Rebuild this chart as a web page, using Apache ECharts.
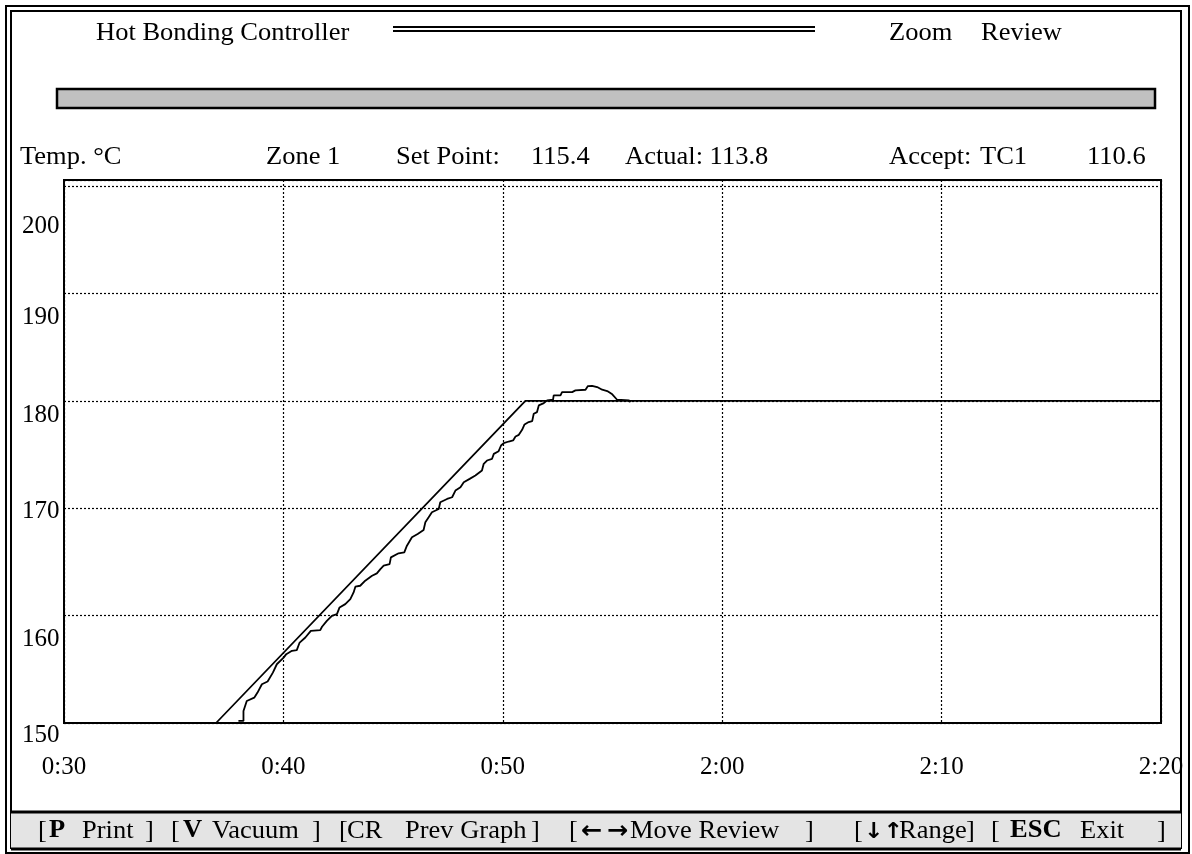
<!DOCTYPE html>
<html>
<head>
<meta charset="utf-8">
<script src="https://cdn.jsdelivr.net/npm/echarts@6/dist/echarts.min.js"></script>
<style>
html,body{margin:0;padding:0;background:#fff;}
#chart{width:1192px;height:854px;}
</style>
</head>
<body>
<div id="chart"></div>
<script>
// ---- data ----
const xTickLabels = ['0:30', '0:40', '0:50', '2:00', '2:10', '2:20'];
const yTicks = [150, 160, 170, 180, 190, 200];

// set point profile (minutes after first tick, degC)
const setpointTime = [6.93, 21.03, 50];
const setpointTemp = [150, 180, 180];

// actual (measured) temperature
const actualTime = [7.95,8.18,8.18,8.33,8.67,8.82,9.02,9.28,9.52,9.70,
  10.01,10.13,10.39,10.61,10.74,11.00,11.25,11.68,11.76,11.98,
  12.21,12.44,12.56,12.82,13.05,13.20,13.28,13.50,13.73,14.04,
  14.26,14.42,14.57,14.84,14.90,15.25,15.51,15.63,15.86,16.12,
  16.39,16.47,16.62,16.77,17.08,17.15,17.46,17.69,17.84,18.07,
  18.22,18.49,18.75,19.05,19.13,19.28,19.51,19.59,19.81,19.92,
  20.04,20.27,20.47,20.58,20.73,20.88,20.99,21.18,21.34,21.41,
  21.56,21.64,21.87,22.02,22.29,22.32,22.63,22.70,23.16,23.31,
  23.77,23.88,24.07,24.30,24.53,24.76,24.99,25.21,25.75,25.82];
const actualTemp = [150.19,150.19,151.12,152.05,152.36,152.83,153.61,153.86,154.69,155.47,
  156.09,156.41,156.72,156.78,157.49,157.96,158.58,158.64,158.96,159.51,
  159.98,160.14,160.76,161.07,161.54,162.16,162.69,162.78,163.25,163.71,
  163.93,164.33,164.65,164.80,165.42,165.80,165.89,166.51,167.29,167.60,
  167.97,168.69,169.15,169.62,169.93,170.55,170.86,171.02,171.64,171.95,
  172.42,172.73,173.04,173.51,174.13,174.44,174.60,175.06,175.31,175.84,
  176.06,176.21,176.31,176.68,176.83,177.30,177.80,178.02,178.11,178.79,
  178.95,179.57,179.79,180.04,180.10,180.50,180.50,180.81,180.81,180.97,
  181.03,181.37,181.40,181.28,181.03,180.91,180.60,180.10,180.04,179.88];

// ---- styling ----
const FONT = '"Liberation Serif", "Times New Roman", serif';
const FS = 25;
const SX = 1.06; // screen text is slightly wider than Times
// vertical shift (px) of each y tick label below its grid line, as on the screen
const yLabelShift = {150: 12, 160: 24, 170: 3, 180: 15, 190: 24, 200: 40};

const rich = {};
yTicks.forEach(v => {
  rich['v' + v] = {
    fontFamily: FONT, fontSize: FS, color: '#000',
    lineHeight: 2 * yLabelShift[v] + FS, verticalAlign: 'bottom'
  };
});

function txt(text, x, y, extra) {
  return {
    type: 'text', silent: true, z: 100, x: x, y: y, scaleX: SX,
    style: Object.assign({
      text: text, x: 0, y: 0, fill: '#000',
      fontFamily: FONT, fontSize: FS,
      align: 'left', verticalAlign: 'middle'
    }, extra || {})
  };
}
function line(x1, y1, x2, y2, w) {
  return {type: 'line', silent: true, z: 100, shape: {x1, y1, x2, y2},
    style: {stroke: '#000', lineWidth: w}};
}
const ARROW = '"DejaVu Sans", sans-serif';

const graphics = [
  // outer double frame
  {type: 'rect', silent: true, z: 90, shape: {x: 6, y: 6, width: 1183, height: 847},
    style: {fill: 'none', stroke: '#000', lineWidth: 2}},
  {type: 'rect', silent: true, z: 90, shape: {x: 11, y: 11, width: 1170, height: 837},
    style: {fill: 'none', stroke: '#000', lineWidth: 2}},
  // header
  txt('Hot Bonding Controller', 96, 33),
  line(393, 27, 815, 27, 2),
  line(393, 31, 815, 31, 2),
  txt('Zoom', 889, 33),
  txt('Review', 981, 33),
  // progress bar
  {type: 'rect', silent: true, z: 95, shape: {x: 57, y: 89, width: 1098, height: 19},
    style: {fill: '#c0c0c0', stroke: '#000', lineWidth: 2.5}},
  // status row
  txt('Temp. °C', 20, 157),
  txt('Zone 1', 266, 157),
  txt('Set Point:', 396, 157),
  txt('115.4', 531, 157),
  txt('Actual: 113.8', 625, 157),
  txt('Accept:', 889, 157),
  txt('TC1', 980, 157),
  txt('110.6', 1087, 157),
  // bottom command bar
  {type: 'rect', silent: true, z: 95, shape: {x: 11, y: 812, width: 1170, height: 37},
    style: {fill: '#e4e4e4', stroke: 'none'}},
  line(11, 812, 1181, 812, 3),
  line(11, 849, 1181, 849, 3),
  txt('[', 38, 831),
  txt('P', 49, 831, {fontWeight: 'bold'}),
  txt('Print', 82, 831),
  txt(']', 145, 831),
  txt('[', 171, 831),
  txt('V', 183, 831, {fontWeight: 'bold'}),
  txt('Vacuum', 212, 831),
  txt(']', 312, 831),
  txt('[', 339, 831),
  txt('CR', 347, 831),
  txt('Prev Graph', 405, 831),
  txt(']', 531, 831),
  txt('[', 569, 831),
  txt('\u2190', 581, 832, {fontFamily: ARROW, fontWeight: 'bold', fontSize: 24}),
  txt('\u2192', 607, 832, {fontFamily: ARROW, fontWeight: 'bold', fontSize: 24}),
  txt('Move Review', 630, 831),
  txt(']', 805, 831),
  txt('[', 854, 831),
  txt('\u2193\u2191', 864, 832, {fontFamily: ARROW, fontWeight: 'bold', fontSize: 22}),
  txt('Range', 899, 831),
  txt(']', 966, 831),
  txt('[', 991, 831),
  txt('ESC', 1010, 831, {fontWeight: 'bold'}),
  txt('Exit', 1080, 831),
  txt(']', 1157, 831)
];

const chart = echarts.init(document.getElementById('chart'), null, {renderer: 'canvas'});
chart.setOption({
  animation: false,
  backgroundColor: '#fff',
  grid: {
    left: 64, right: 31, top: 180, bottom: 131,
    show: true, borderColor: '#000', borderWidth: 2, backgroundColor: 'transparent'
  },
  xAxis: {
    type: 'value', min: 0, max: 50, interval: 10,
    axisLine: {show: false}, axisTick: {show: false},
    splitLine: {show: true, lineStyle: {color: '#000', type: [2, 2], width: 1.2}},
    axisLabel: {
      margin: 32, fontFamily: FONT, fontSize: FS, color: '#000',
      showMinLabel: true, showMaxLabel: true, hideOverlap: false,
      formatter: v => xTickLabels[Math.round(v / 10)] || ''
    }
  },
  yAxis: {
    type: 'value', min: 150, max: 200.56, interval: 10,
    axisLine: {show: false}, axisTick: {show: false},
    splitLine: {show: true, lineStyle: {color: '#000', type: [2, 2], width: 1.2}},
    axisLabel: {
      align: 'left', margin: 42, color: '#000', fontFamily: FONT, fontSize: FS,
      showMinLabel: true, showMaxLabel: true, hideOverlap: false,
      formatter: v => yTicks.indexOf(v) >= 0 ? '{v' + v + '|' + v + '}' : '',
      rich: rich
    }
  },
  series: [
    {
      name: 'Set Point', type: 'line', showSymbol: false, silent: true,
      lineStyle: {color: '#000', width: 1.8},
      data: setpointTime.map((t, i) => [t, setpointTemp[i]])
    },
    {
      name: 'Actual', type: 'line', showSymbol: false, silent: true,
      lineStyle: {color: '#000', width: 1.8},
      data: actualTime.map((t, i) => [t, actualTemp[i]])
    }
  ],
  graphic: graphics
});
</script>
</body>
</html>
